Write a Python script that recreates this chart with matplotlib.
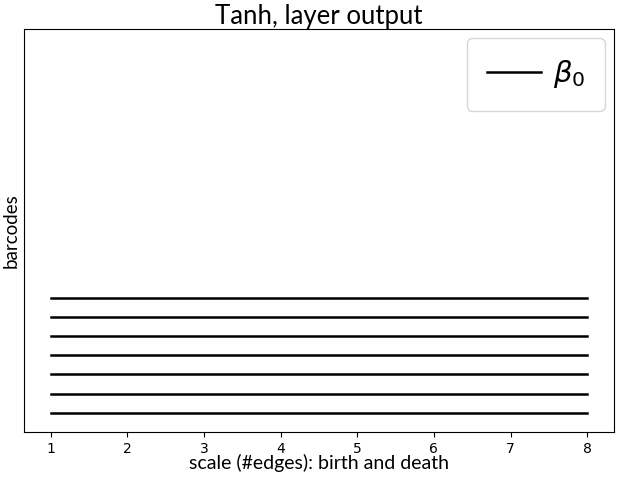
import matplotlib
matplotlib.use("Agg")
import matplotlib.pyplot as plt

# barcode intervals (birth, death) for beta_0
births = [1, 1, 1, 1, 1, 1, 1]
deaths = [8, 8, 8, 8, 8, 8, 8]
levels = [1, 2, 3, 4, 5, 6, 7]

fig, ax = plt.subplots(figsize=(6.19, 4.8), dpi=100)
for i, (b, d, y) in enumerate(zip(births, deaths, levels)):
    ax.plot([b, d], [y, y], color='black', lw=1.8,
            label=r'$\beta_0$' if i == 0 else None)

ax.set_ylim(0, 21)
ax.set_yticks([])
ax.set_xticks(range(1, 9))
ax.set_title('Tanh, layer output', fontsize=18.5, family='Lato', pad=3)
ax.set_xlabel('scale (#edges): birth and death', fontsize=14, family='Lato', labelpad=-1)
ax.set_ylabel('barcodes', fontsize=13.5, family='Lato', labelpad=3)
ax.legend(loc='upper right', fontsize=21, handlelength=1.85, handletextpad=0.4,
          borderpad=0.7, borderaxespad=0.3)

fig.subplots_adjust(left=24/619, right=614/619, top=1 - 29/480, bottom=1 - 432/480)
fig.savefig('out.png')
